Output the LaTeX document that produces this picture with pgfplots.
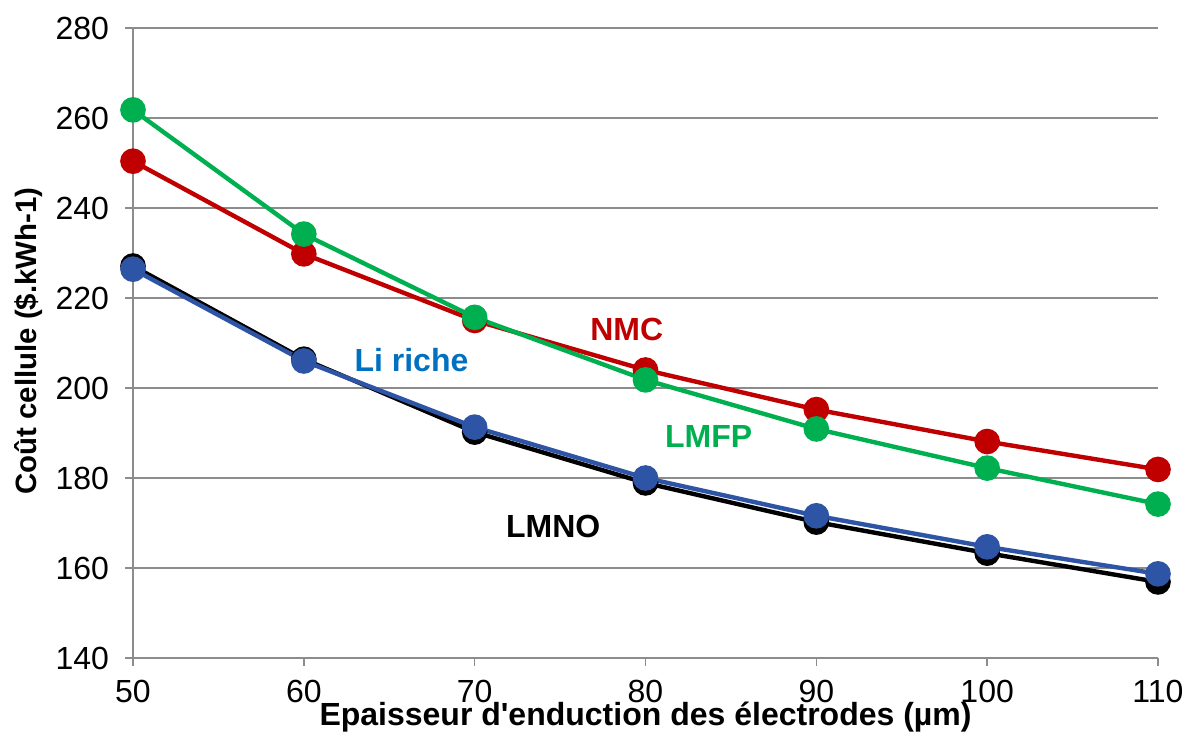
\documentclass[border=0pt]{standalone}
\usepackage{pgfplots}
\pgfplotsset{compat=1.18}
\usepackage{fontspec}
\setmainfont{Liberation Sans}
\definecolor{nmc}{HTML}{C00000}
\definecolor{lmfp}{HTML}{00B050}
\definecolor{liriche}{HTML}{2E54A6}
\definecolor{litxt}{HTML}{0070C0}
\definecolor{gridc}{HTML}{8C8C8C}
\begin{document}
\begin{tikzpicture}
\path[use as bounding box] (0,0) rectangle (593.5pt,366pt);
\begin{axis}[
  at={(66.5pt,37pt)}, anchor=south west,
  scale only axis, width=512.5pt, height=315pt,
  xmin=50, xmax=110, ymin=140, ymax=280,
  xtick={50,60,...,110}, ytick={140,160,...,280},
  axis lines=left, axis line style={gridc, line width=0.8pt, -},
  ymajorgrids, grid style={gridc, line width=0.8pt},
  tick style={gridc, line width=0.8pt},
  tick align=outside, major tick length=4pt,
  /pgf/number format/assume math mode=true,
  ticklabel style={font=\fontsize{16}{18}\selectfont},
  xticklabel style={anchor=base, yshift=-18.5pt},
  yticklabel style={xshift=-4.5pt},
  clip=false,
]
\addplot[black, line width=2.2pt, mark=*, mark size=5.3pt, mark options={fill=black}] coordinates {
(50,227.1) (60,206.4) (70,190.2) (80,178.9) (90,170.2) (100,163.3) (110,156.9)};
\addplot[liriche, line width=2.2pt, mark=*, mark size=5.3pt, mark options={fill=liriche}] coordinates {
(50,226.4) (60,206.0) (70,191.3) (80,180.0) (90,171.6) (100,164.7) (110,158.7)};
\addplot[nmc, line width=2.2pt, mark=*, mark size=5.3pt, mark options={fill=nmc}] coordinates {
(50,250.4) (60,229.8) (70,215.0) (80,204.0) (90,195.2) (100,188.1) (110,181.9)};
\addplot[lmfp, line width=2.2pt, mark=*, mark size=5.3pt, mark options={fill=lmfp}] coordinates {
(50,261.8) (60,234.2) (70,215.7) (80,201.8) (90,190.9) (100,182.2) (110,174.2)};
\node[font=\fontsize{16}{18}\selectfont\bfseries, text=nmc] at (axis cs:78.9,212.9) {NMC};
\node[font=\fontsize{16}{18}\selectfont\bfseries, text=litxt] at (axis cs:66.3,206.2) {Li riche};
\node[font=\fontsize{16}{18}\selectfont\bfseries, text=lmfp] at (axis cs:83.7,189.3) {LMFP};
\node[font=\fontsize{16}{18}\selectfont\bfseries, text=black] at (axis cs:74.6,169.3) {LMNO};
\node[font=\fontsize{16}{18}\selectfont\bfseries, anchor=base, inner sep=0pt] at (axis cs:80,125.1) {Epaisseur d{\addfontfeature{Ligatures=TeXOff}'}enduction des électrodes (µm)};
\node[font=\fontsize{14.7}{16}\selectfont\bfseries, rotate=90, anchor=center, inner sep=0pt] at (axis cs:43.9,210.4) {Coût cellule (\$.kWh-1)};
\end{axis}
\end{tikzpicture}
\end{document}
